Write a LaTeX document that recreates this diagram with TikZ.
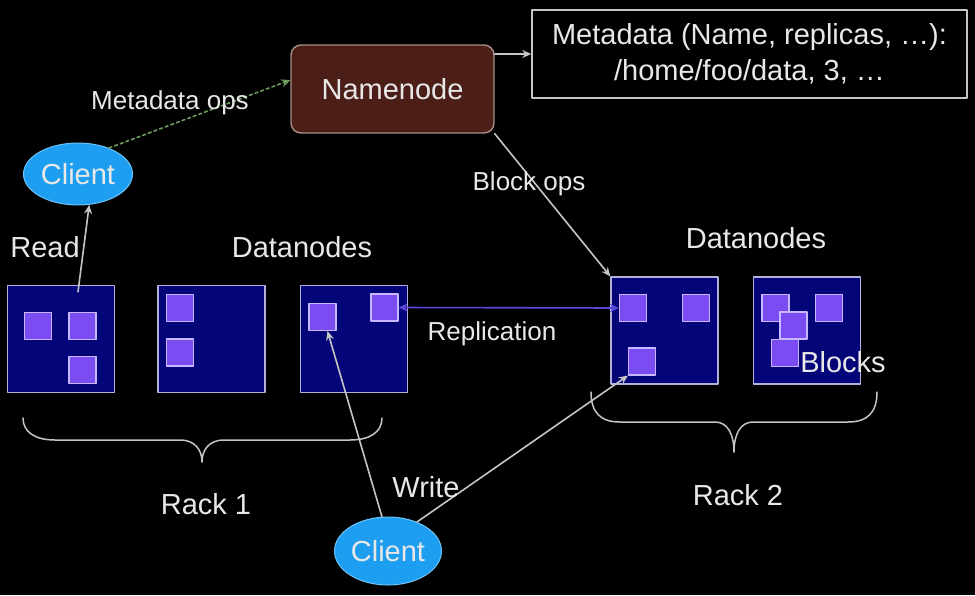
\documentclass[tikz,border=0pt]{standalone}
\usepackage{fontspec}
\setmainfont{Liberation Sans}
\usetikzlibrary{arrows.meta,shapes.geometric}

\definecolor{nodebrown}{HTML}{4B1E17}
\definecolor{nodeedge}{HTML}{A89088}
\definecolor{clientblue}{HTML}{1E9EF0}
\definecolor{clientedge}{HTML}{6CC2FA}
\definecolor{racknavy}{HTML}{05057A}
\definecolor{rackedge}{HTML}{B4B0DC}
\definecolor{blockviolet}{HTML}{7A4CF2}
\definecolor{blockedge}{HTML}{C8B8FF}
\definecolor{txtgray}{HTML}{E8E8E8}
\definecolor{repline}{HTML}{5A48D8}
\definecolor{opsgreen}{HTML}{6E9E5E}

\begin{document}
\begin{tikzpicture}[x=1pt,y=-1pt,>={Stealth[length=9pt,width=8pt]},line cap=round,line join=round,
  lbl/.style={text=txtgray,font=\fontsize{29}{34}\selectfont,inner sep=0pt},
  smalllbl/.style={text=txtgray,font=\fontsize{26}{30}\selectfont,inner sep=0pt},
  datanode/.style={draw=rackedge,fill=racknavy,line width=1.4pt,minimum width=107pt,minimum height=107pt,inner sep=0pt},
  blk/.style={draw=blockedge,fill=blockviolet,line width=1.2pt,minimum width=27pt,minimum height=27pt,inner sep=0pt},
  client/.style={ellipse,draw=clientedge,fill=clientblue,line width=1pt,text=txtgray,font=\fontsize{29}{34}\selectfont,inner sep=0pt},
  wire/.style={->,draw=txtgray!85!black,line width=1.6pt},
  brace/.style={draw=txtgray!85!black,line width=1.5pt}]
\fill[black] (0,0) rectangle (975,595);
\useasboundingbox (0,0) rectangle (975,595);

\node[draw=nodeedge,fill=nodebrown,rounded corners=10pt,line width=1.4pt,minimum width=203pt,minimum height=88pt,text=txtgray,font=\fontsize{29}{34}\selectfont] (nn) at (392.5,89) {Namenode};
\node[draw=txtgray!85!black,fill=black,line width=1.4pt,minimum width=435pt,minimum height=88pt,align=center,text=txtgray,font=\fontsize{29}{36}\selectfont] (meta) at (749.5,54) {Metadata (Name, replicas, \ldots):\\/home/foo/data, 3, \ldots};

\node[client,minimum width=109pt,minimum height=62pt] (c1) at (78,174) {Client};
\node[client,minimum width=107pt,minimum height=68pt] (c2) at (388,551) {Client};

% rack 1
\node[datanode] (d1) at (61,339) {};
\node[datanode] (d2) at (211.5,339) {};
\node[datanode] (d3) at (354,339) {};
\node[blk] (b1a) at (38,326) {};
\node[blk] (b1b) at (82.5,326) {};
\node[blk] (b1c) at (82.5,370) {};
\node[blk] (b2a) at (180,308) {};
\node[blk] (b2b) at (180,352.5) {};
\node[blk] (b3a) at (322.5,317) {};
\node[blk] (b3b) at (384.5,307.5) {};

% rack 2
\node[datanode] (d4) at (664.5,330.5) {};
\node[datanode] (d5) at (807,330.5) {};
\node[blk] (b4a) at (633,308) {};
\node[blk] (b4b) at (696,308) {};
\node[blk] (b4c) at (642,361.5) {};
\node[blk] (b5a) at (775.5,308) {};
\node[blk] (b5c) at (829,308) {};
\node[blk] (b5b) at (793.5,325.5) {};
\node[blk] (b5d) at (785,353) {};

\draw[wire] (nn.east |- meta.west) -- (meta.west);
\draw[->,draw=opsgreen,line width=1.6pt,dash pattern=on 3pt off 3pt] (c1.40) -- (nn.175);
\draw[wire] (nn.south east) -- (d4.north west);
\draw[<->,draw=repline,line width=1.6pt] (b4a.west) -- (b3b.east);
\draw[wire] ([xshift=17pt,yshift=-7pt]d1.north) -- (c1.290);
\draw[wire] (c2.100) -- ([xshift=5pt]b3a.south);
\draw[wire] (c2.45) -- (b4c.south west);

\draw[brace] (23,418) .. controls (23,432) and (35,440) .. (55,440) -- (180,440) .. controls (195,440) and (202,450) .. (202,462) .. controls (202,450) and (209,440) .. (224,440) -- (350,440) .. controls (370,440) and (382,432) .. (382,418);
\draw[brace] (591,392) .. controls (591,412) and (600,422) .. (620,422) -- (715,422) .. controls (728,422) and (734,435) .. (734,452) .. controls (734,435) and (740,422) .. (753,422) -- (848,422) .. controls (868,422) and (877,412) .. (877,392);

\node[smalllbl] (lops) at (170,103) {Metadata ops};
\node[smalllbl] (lblk) at (529,184) {Block ops};
\node[smalllbl] (lrep) at (492,334) {Replication};
\node[lbl] (lread) at (45,247) {Read};
\node[lbl] (ldn1) at (302,247) {Datanodes};
\node[lbl] (ldn2) at (756,238) {Datanodes};
\node[lbl] (lblocks) at (843,362) {Blocks};
\node[lbl] (lwrite) at (426,487) {Write};
\node[lbl] (lr1) at (206,504) {Rack 1};
\node[lbl] (lr2) at (738,495) {Rack 2};
\end{tikzpicture}
\end{document}
